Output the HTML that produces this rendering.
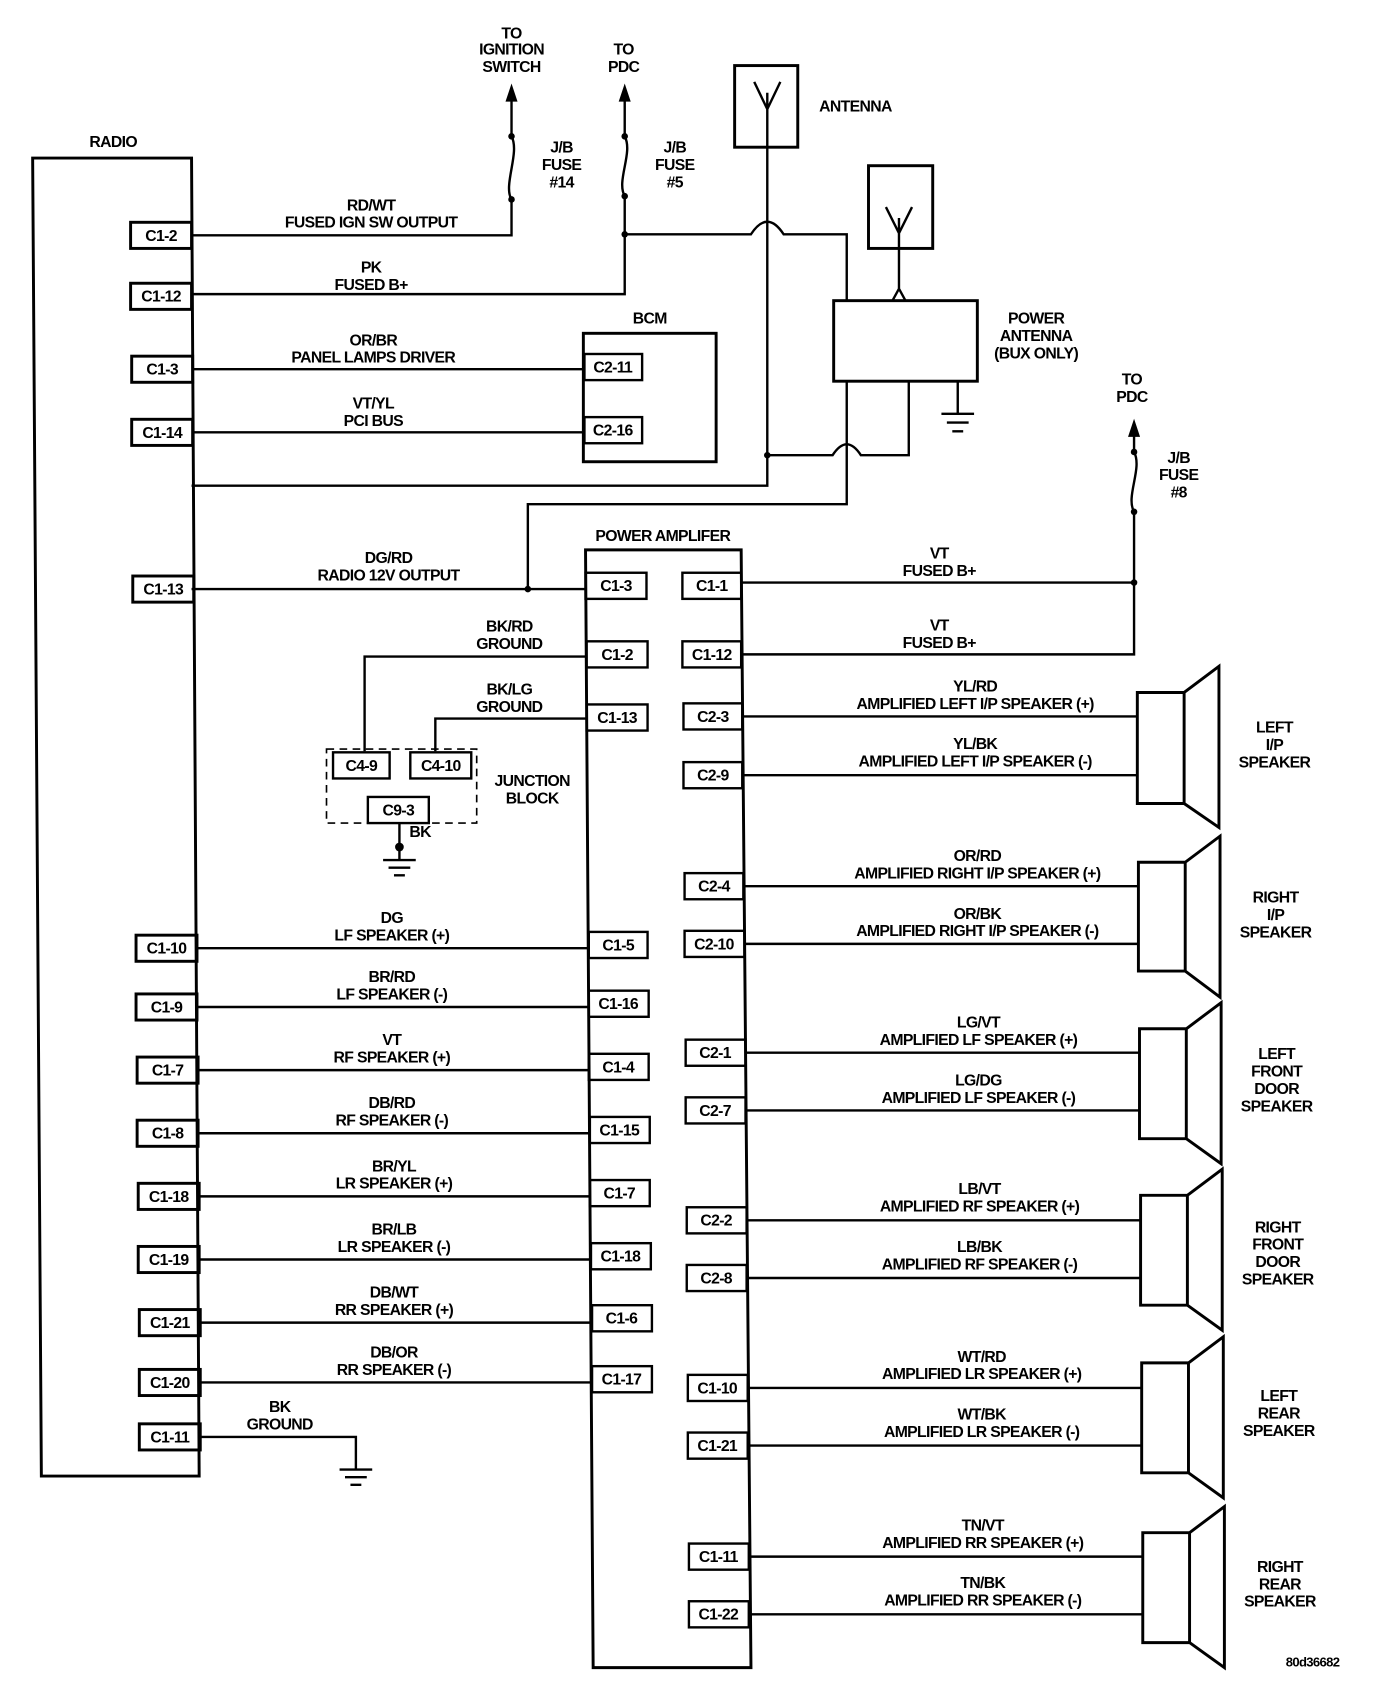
<!DOCTYPE html>
<html><head><meta charset="utf-8"><style>
html,body{margin:0;padding:0;background:#fff;}
svg{display:block;}
text{font-family:"Liberation Sans",sans-serif;font-size:14.5px;fill:#000;text-anchor:middle;font-weight:bold;letter-spacing:-0.6px;}
.c{font-size:15px;}
</style></head><body>
<svg width="1392" height="1706" viewBox="0 0 1279 1567" xmlns="http://www.w3.org/2000/svg">
<g fill="none" stroke="#000" stroke-width="2.2">
<path d="M30,145 H176 L183,1356 H38 Z" stroke-width="2.7"/>
<path d="M176,216 H470 V183 C462,170 478,140 470,125 V82"/>
<path d="M466,92 L470,80 L474,92 Z" fill="#000"/>
<path d="M176,270 H574 V180 C566,166 582,140 574,125 V82"/>
<path d="M570,92 L574,80 L578,92 Z" fill="#000"/>
<path d="M574,215 H690 Q705,192 720,215 H778 V276"/>
<path d="M176,339 H537 M176,397 H537"/>
<rect x="536" y="306" width="122" height="118" stroke-width="2.7"/>
<rect x="537" y="325" width="53" height="24"/>
<rect x="537" y="383" width="53" height="24"/>
<rect x="675" y="60" width="58" height="75" stroke-width="2.7"/>
<path d="M693,75 L705,100 L717,75 M705,85 V418"/>
<path d="M176,446 H705 V418 H765 Q778,398 791,418 H835 V350"/>
<rect x="798" y="152" width="59" height="76" stroke-width="2.7"/>
<path d="M814,190 L826,214 L838,190 M826,200 V265 M820,276 L826,265 L832,276"/>
<rect x="766" y="276" width="132" height="74" stroke-width="2.7"/>
<path d="M880,350 V380 M865,380 H895 M870,388 H890 M875,396 H885"/>
<path d="M778,350 V463 H485 V541"/>
<path d="M176,541 H538"/>
<path d="M538,505 H681 L690,1532 H545 Z" stroke-width="2.7"/>
<rect x="538" y="526" width="56" height="24"/>
<rect x="539" y="589" width="56" height="24"/>
<rect x="539" y="647" width="56" height="24"/>
<rect x="541" y="856" width="54" height="24"/>
<rect x="541" y="910" width="55" height="24"/>
<rect x="541" y="968" width="55" height="24"/>
<rect x="542" y="1026" width="55" height="24"/>
<rect x="542" y="1084" width="55" height="24"/>
<rect x="543" y="1142" width="55" height="24"/>
<rect x="544" y="1199" width="55" height="24"/>
<rect x="544" y="1255" width="55" height="24"/>
<rect x="627" y="526" width="54" height="24"/>
<rect x="627" y="589" width="54" height="24"/>
<rect x="628" y="646" width="54" height="24"/>
<rect x="628" y="700" width="54" height="24"/>
<rect x="629" y="802" width="54" height="24"/>
<rect x="629" y="855" width="55" height="24"/>
<rect x="630" y="955" width="55" height="24"/>
<rect x="630" y="1008" width="55" height="24"/>
<rect x="631" y="1109" width="55" height="24"/>
<rect x="631" y="1162" width="55" height="24"/>
<rect x="632" y="1263" width="55" height="24"/>
<rect x="632" y="1316" width="55" height="24"/>
<rect x="633" y="1418" width="55" height="24"/>
<rect x="633" y="1471" width="55" height="24"/>
<path d="M681,535 H1042 M681,601 H1042 V470 C1034,456 1050,430 1042,415 V390"/>
<path d="M1038,400 L1042,388 L1046,400 Z" fill="#000"/>
<path d="M539,603 H335 V690 M539,660 H400 V690"/>
<rect x="300" y="688" width="138" height="68" stroke-dasharray="7,5" stroke-width="1.5"/>
<rect x="306" y="691" width="52" height="24"/>
<rect x="377" y="691" width="56" height="24"/>
<rect x="338" y="732" width="56" height="24"/>
<path d="M367,756 V790 M352,790 H382 M357,797 H377 M362,804 H372"/>
<g stroke-width="2.7">
<rect x="120" y="204" width="56" height="24"/>
<rect x="120" y="260" width="56" height="24"/>
<rect x="121" y="327" width="56" height="24"/>
<rect x="121" y="385" width="56" height="24"/>
<rect x="122" y="529" width="56" height="24"/>
<rect x="125" y="859" width="56" height="24"/>
<rect x="125" y="913" width="56" height="24"/>
<rect x="126" y="971" width="56" height="24"/>
<rect x="126" y="1029" width="56" height="24"/>
<rect x="127" y="1087" width="56" height="24"/>
<rect x="127" y="1145" width="56" height="24"/>
<rect x="128" y="1203" width="56" height="24"/>
<rect x="128" y="1258" width="56" height="24"/>
<rect x="128" y="1308" width="56" height="24"/>
</g>
<path d="M181,871 H541 M181,925 H541 M182,983 H541 M182,1041 H542 M183,1099 H542 M183,1157 H543 M184,1215 H544 M184,1270 H544"/>
<path d="M184,1320 H327 V1350 M312,1350 H342 M317,1357 H337 M322,1364 H332"/>
<path d="M682,658 H1045 M682,712 H1045 M683,814 H1046 M684,867 H1046 M685,967 H1047 M685,1020 H1047 M686,1121 H1048 M686,1174 H1048 M687,1275 H1049 M687,1328 H1049 M688,1430 H1050 M688,1483 H1050"/>
<g stroke-width="2.7">
<path d="M1045,636 H1088 V738 H1045 Z M1088,636 L1120,612 V760 L1088,738"/>
<path d="M1046,792 H1089 V892 H1046 Z M1089,792 L1121,768 V916 L1089,892"/>
<path d="M1047,945 H1090 V1046 H1047 Z M1090,945 L1122,921 V1069 L1090,1046"/>
<path d="M1048,1098 H1091 V1199 H1048 Z M1091,1098 L1123,1074 V1222 L1091,1199"/>
<path d="M1049,1252 H1092 V1353 H1049 Z M1092,1252 L1124,1228 V1376 L1092,1353"/>
<path d="M1050,1408 H1093 V1509 H1050 Z M1093,1408 L1125,1384 V1532 L1093,1509"/>
</g>
</g>
<g fill="#000">
<circle cx="470" cy="183" r="3"/><circle cx="470" cy="125" r="3"/>
<circle cx="574" cy="180" r="3"/><circle cx="574" cy="125" r="3"/><circle cx="574" cy="215" r="3"/>
<circle cx="705" cy="418" r="3"/><circle cx="485" cy="541" r="3"/>
<circle cx="1042" cy="535" r="3"/><circle cx="1042" cy="470" r="3"/><circle cx="1042" cy="415" r="3"/>
<circle cx="367" cy="778" r="4"/>
</g>
<text x="470" y="35">TO</text><text x="470" y="50">IGNITION</text><text x="470" y="66">SWITCH</text>
<text x="573" y="50">TO</text><text x="573" y="66">PDC</text>
<text x="516" y="140">J/B</text><text x="516" y="156">FUSE</text><text x="516" y="172">#14</text>
<text x="620" y="140">J/B</text><text x="620" y="156">FUSE</text><text x="620" y="172">#5</text>
<text x="786" y="102">ANTENNA</text>
<text x="104" y="135">RADIO</text>
<text x="341" y="193">RD/WT</text><text x="341" y="209">FUSED IGN SW OUTPUT</text>
<text x="341" y="250">PK</text><text x="341" y="266">FUSED B+</text>
<text x="597" y="297">BCM</text>
<text x="343" y="317">OR/BR</text><text x="343" y="333">PANEL LAMPS DRIVER</text>
<text x="343" y="375">VT/YL</text><text x="343" y="391">PCI BUS</text>
<text x="952" y="297">POWER</text><text x="952" y="313">ANTENNA</text><text x="952" y="329">(BUX ONLY)</text>
<text x="1040" y="353">TO</text><text x="1040" y="369">PDC</text>
<text x="1083" y="425">J/B</text><text x="1083" y="441">FUSE</text><text x="1083" y="457">#8</text>
<text x="609" y="497">POWER AMPLIFER</text>
<text x="357" y="517">DG/RD</text><text x="357" y="533">RADIO 12V OUTPUT</text>
<text x="863" y="513">VT</text><text x="863" y="529">FUSED B+</text>
<text x="863" y="579">VT</text><text x="863" y="595">FUSED B+</text>
<text x="468" y="580">BK/RD</text><text x="468" y="596">GROUND</text>
<text x="468" y="638">BK/LG</text><text x="468" y="654">GROUND</text>
<text x="489" y="722">JUNCTION</text><text x="489" y="738">BLOCK</text>
<text x="386" y="769">BK</text>
<g class="c">
<text x="148" y="221">C1-2</text><text x="148" y="277">C1-12</text><text x="149" y="344">C1-3</text><text x="149" y="402">C1-14</text>
<text x="150" y="546">C1-13</text><text x="153" y="876">C1-10</text><text x="153" y="930">C1-9</text><text x="154" y="988">C1-7</text>
<text x="154" y="1046">C1-8</text><text x="155" y="1104">C1-18</text><text x="155" y="1162">C1-19</text><text x="156" y="1220">C1-21</text>
<text x="156" y="1275">C1-20</text><text x="156" y="1325">C1-11</text>
<text x="563" y="342">C2-11</text><text x="563" y="400">C2-16</text>
<text x="566" y="543">C1-3</text><text x="567" y="606">C1-2</text><text x="567" y="664">C1-13</text>
<text x="568" y="873">C1-5</text><text x="568" y="927">C1-16</text><text x="568" y="985">C1-4</text><text x="569" y="1043">C1-15</text>
<text x="569" y="1101">C1-7</text><text x="570" y="1159">C1-18</text><text x="571" y="1216">C1-6</text><text x="571" y="1272">C1-17</text>
<text x="654" y="543">C1-1</text><text x="654" y="606">C1-12</text><text x="655" y="663">C2-3</text><text x="655" y="717">C2-9</text>
<text x="656" y="819">C2-4</text><text x="656" y="872">C2-10</text><text x="657" y="972">C2-1</text><text x="657" y="1025">C2-7</text>
<text x="658" y="1126">C2-2</text><text x="658" y="1179">C2-8</text><text x="659" y="1280">C1-10</text><text x="659" y="1333">C1-21</text>
<text x="660" y="1435">C1-11</text><text x="660" y="1488">C1-22</text>
<text x="332" y="708">C4-9</text><text x="405" y="708">C4-10</text><text x="366" y="749">C9-3</text>
</g>
<text x="360" y="848">DG</text><text x="360" y="864">LF SPEAKER (+)</text>
<text x="360" y="902">BR/RD</text><text x="360" y="918">LF SPEAKER (-)</text>
<text x="360" y="960">VT</text><text x="360" y="976">RF SPEAKER (+)</text>
<text x="360" y="1018">DB/RD</text><text x="360" y="1034">RF SPEAKER (-)</text>
<text x="362" y="1076">BR/YL</text><text x="362" y="1092">LR SPEAKER (+)</text>
<text x="362" y="1134">BR/LB</text><text x="362" y="1150">LR SPEAKER (-)</text>
<text x="362" y="1192">DB/WT</text><text x="362" y="1208">RR SPEAKER (+)</text>
<text x="362" y="1247">DB/OR</text><text x="362" y="1263">RR SPEAKER (-)</text>
<text x="257" y="1297">BK</text><text x="257" y="1313">GROUND</text>
<text x="896" y="635">YL/RD</text><text x="896" y="651">AMPLIFIED LEFT I/P SPEAKER (+)</text>
<text x="896" y="688">YL/BK</text><text x="896" y="704">AMPLIFIED LEFT I/P SPEAKER (-)</text>
<text x="898" y="791">OR/RD</text><text x="898" y="807">AMPLIFIED RIGHT I/P SPEAKER (+)</text>
<text x="898" y="844">OR/BK</text><text x="898" y="860">AMPLIFIED RIGHT I/P SPEAKER (-)</text>
<text x="899" y="944">LG/VT</text><text x="899" y="960">AMPLIFIED LF SPEAKER (+)</text>
<text x="899" y="997">LG/DG</text><text x="899" y="1013">AMPLIFIED LF SPEAKER (-)</text>
<text x="900" y="1097">LB/VT</text><text x="900" y="1113">AMPLIFIED RF SPEAKER (+)</text>
<text x="900" y="1150">LB/BK</text><text x="900" y="1166">AMPLIFIED RF SPEAKER (-)</text>
<text x="902" y="1251">WT/RD</text><text x="902" y="1267">AMPLIFIED LR SPEAKER (+)</text>
<text x="902" y="1304">WT/BK</text><text x="902" y="1320">AMPLIFIED LR SPEAKER (-)</text>
<text x="903" y="1406">TN/VT</text><text x="903" y="1422">AMPLIFIED RR SPEAKER (+)</text>
<text x="903" y="1459">TN/BK</text><text x="903" y="1475">AMPLIFIED RR SPEAKER (-)</text>
<text x="1171" y="673">LEFT</text><text x="1171" y="689">I/P</text><text x="1171" y="705">SPEAKER</text>
<text x="1172" y="829">RIGHT</text><text x="1172" y="845">I/P</text><text x="1172" y="861">SPEAKER</text>
<text x="1173" y="973">LEFT</text><text x="1173" y="989">FRONT</text><text x="1173" y="1005">DOOR</text><text x="1173" y="1021">SPEAKER</text>
<text x="1174" y="1132">RIGHT</text><text x="1174" y="1148">FRONT</text><text x="1174" y="1164">DOOR</text><text x="1174" y="1180">SPEAKER</text>
<text x="1175" y="1287">LEFT</text><text x="1175" y="1303">REAR</text><text x="1175" y="1319">SPEAKER</text>
<text x="1176" y="1444">RIGHT</text><text x="1176" y="1460">REAR</text><text x="1176" y="1476">SPEAKER</text>
<text x="1206" y="1531" style="font-size:12px">80d36682</text>
</svg>
</body></html>
